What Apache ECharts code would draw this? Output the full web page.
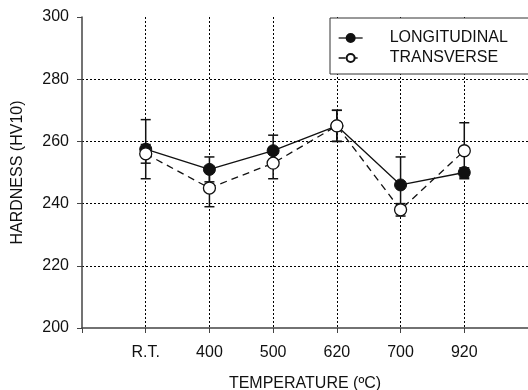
<!DOCTYPE html>
<html>
<head>
<meta charset="utf-8">
<style>
  html, body { margin: 0; padding: 0; background: #fff; }
  #chart { width: 528px; height: 390px; }
</style>
<script src="https://cdn.jsdelivr.net/npm/echarts@6/dist/echarts.min.js"></script>
</head>
<body>
<div id="chart"></div>
<script>
  // temperatures along the x axis
  var categories = ['R.T.', '400', '500', '620', '700', '920'];
  // hardness HV10, mean and +/- error
  var longMean = [257.5, 251, 257, 265, 246, 250];
  var longErr = [9.5, 4, 5, 5, 9, 1.5];
  var transMean = [256, 245, 253, 265, 238, 257];
  var transErr = [3, 6, 5, 5, 2, 9];
  var yTicks = [200, 220, 240, 260, 280, 300];

  var font = 'Liberation Sans, Arial, sans-serif';
  var ink = '#111';

  function pts(mean) {
    return mean.map(function (v, i) { return [i + 1, v]; });
  }
  function bars(mean, err) {
    return mean.map(function (v, i) { return [i + 1, v - err[i], v + err[i]]; });
  }
  function renderBar(params, api) {
    var x = api.value(0);
    var lo = api.coord([x, api.value(1)]);
    var hi = api.coord([x, api.value(2)]);
    var w = 5;
    var st = { stroke: ink, lineWidth: 1.5 };
    return {
      type: 'group',
      children: [
        { type: 'line', shape: { x1: hi[0], y1: hi[1], x2: lo[0], y2: lo[1] }, style: st },
        { type: 'line', shape: { x1: hi[0] - w, y1: hi[1], x2: hi[0] + w, y2: hi[1] }, style: st },
        { type: 'line', shape: { x1: lo[0] - w, y1: lo[1], x2: lo[0] + w, y2: lo[1] }, style: st }
      ]
    };
  }

  var chart = echarts.init(document.getElementById('chart'));
  var option = {
    animation: false,
    textStyle: { fontFamily: font },
    grid: { left: 82, right: 0, top: 17, bottom: 62, outerBoundsMode: 'none' },
    legend: {
      data: ['LONGITUDINAL', 'TRANSVERSE'],
      orient: 'vertical',
      left: 330,
      top: 18,
      padding: [12, 21, 8, 8],
      itemGap: 4,
      itemWidth: 24,
      itemHeight: 10,
      borderColor: '#333',
      borderWidth: 1,
      backgroundColor: '#fff',
      lineStyle: { color: ink, width: 1.3 },
      textStyle: { fontFamily: font, fontSize: 16, color: ink, padding: [0, 0, 0, 22] }
    },
    xAxis: {
      type: 'value',
      min: 0,
      max: 7,
      interval: 1,
      name: 'TEMPERATURE (ºC)',
      nameLocation: 'middle',
      nameGap: 48,
      nameTextStyle: { fontFamily: font, fontSize: 16, color: ink },
      axisLine: { lineStyle: { color: '#444', width: 1.5 } },
      axisTick: { length: 5, lineStyle: { color: '#444' } },
      axisLabel: {
        margin: 17,
        fontFamily: font,
        fontSize: 16,
        color: ink,
        formatter: function (v) { return categories[v - 1] || ''; }
      },
      splitLine: { show: true, showMinLine: false, showMaxLine: false, lineStyle: { color: '#000', type: [2, 2], width: 1 } }
    },
    yAxis: {
      type: 'value',
      min: yTicks[0],
      max: yTicks[yTicks.length - 1],
      interval: 20,
      name: 'HARDNESS (HV10)',
      nameLocation: 'middle',
      nameGap: 56,
      nameTextStyle: { fontFamily: font, fontSize: 16, color: ink },
      axisLine: { show: true, lineStyle: { color: '#444', width: 1.5 } },
      axisTick: { show: true, length: 5, lineStyle: { color: '#444' } },
      axisLabel: { margin: 13, fontFamily: font, fontSize: 16, color: ink },
      splitLine: { show: true, showMinLine: false, showMaxLine: false, lineStyle: { color: '#000', type: [2, 2], width: 1 } }
    },
    series: [
      {
        type: 'custom',
        name: 'errLong',
        renderItem: renderBar,
        data: bars(longMean, longErr),
        z: 1
      },
      {
        type: 'custom',
        name: 'errTrans',
        renderItem: renderBar,
        data: bars(transMean, transErr),
        z: 1
      },
      {
        name: 'LONGITUDINAL',
        type: 'line',
        data: pts(longMean),
        symbol: 'circle',
        symbolSize: 12,
        lineStyle: { color: ink, width: 1.3 },
        itemStyle: { color: ink, borderColor: ink, borderWidth: 1 },
        z: 3
      },
      {
        name: 'TRANSVERSE',
        type: 'line',
        data: pts(transMean),
        symbol: 'circle',
        symbolSize: 12,
        lineStyle: { color: ink, width: 1.3, type: [7, 5] },
        itemStyle: { color: '#fff', borderColor: ink, borderWidth: 1.3 },
        z: 4
      }
    ]
  };
  chart.setOption(option);
</script>
</body>
</html>
